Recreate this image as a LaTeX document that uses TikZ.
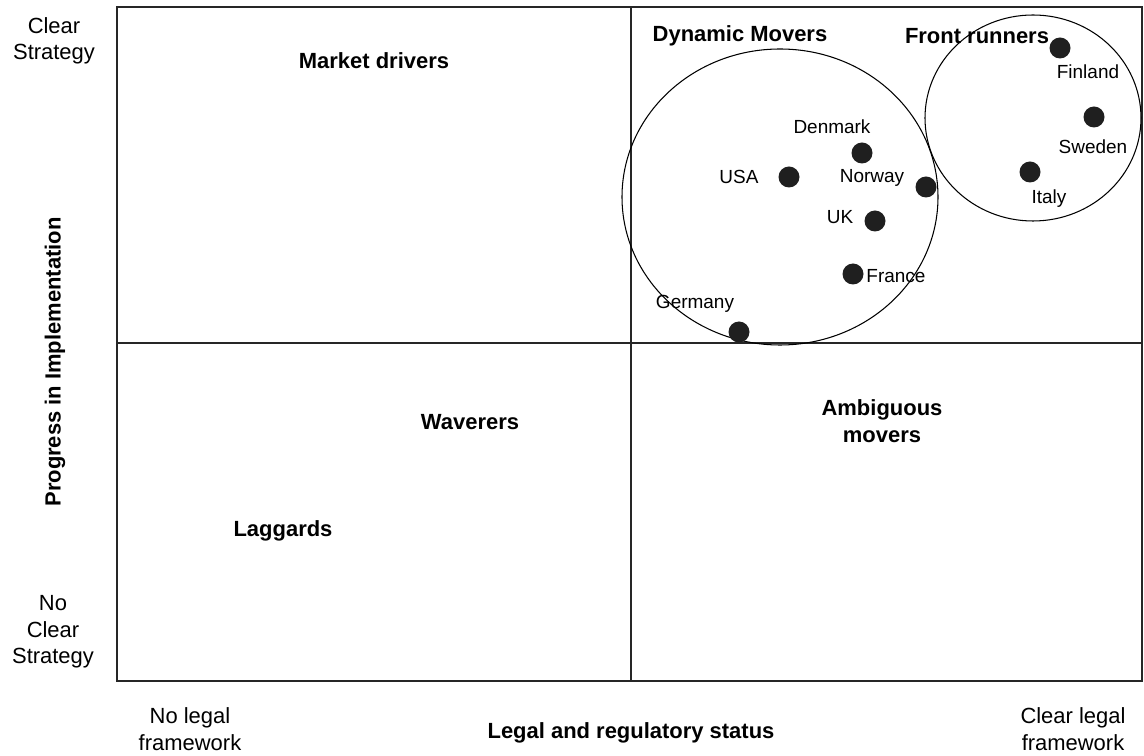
\documentclass[tikz,border=0pt]{standalone}
\usepackage{fontspec}
\setmainfont{Liberation Sans}
\usepackage{tikz}

\tikzset{
  quadlabel/.style={font=\fontsize{12.5}{15}\selectfont\bfseries, align=center},
  axislabel/.style={font=\fontsize{12.5}{15}\selectfont, align=center},
  country/.style={font=\fontsize{10.8}{13}\selectfont},
  dot/.style={circle, fill=black!88, inner sep=0pt, minimum size=0.42cm},
  frame/.style={line width=1.6pt, black!85},
}

\begin{document}
\begin{tikzpicture}[x=0.02cm, y=-0.02cm]
\useasboundingbox (0,0) rectangle (1144,756);
\coordinate (TL) at (117,7);
\coordinate (BR) at (1142,681);
\coordinate (MT) at (631,7);
\coordinate (MB) at (631,681);
\coordinate (ML) at (117,343);
\coordinate (MR) at (1142,343);
\draw[frame] (TL) rectangle (BR);
\draw[frame] (MT) -- (MB);
\draw[frame] (ML) -- (MR);
% the two groups
\draw[line width=0.6pt] (780,197) ellipse [x radius=158, y radius=148];
\draw[line width=0.6pt] (1033,118) ellipse [x radius=108, y radius=103];
% countries
\node[dot] (fin) at (1060,48) {};
\node[dot] (swe) at (1094,117) {};
\node[dot] (ita) at (1030,172) {};
\node[dot] (den) at (862,153) {};
\node[dot] (usa) at (789,177) {};
\node[dot] (nor) at (926,187) {};
\node[dot] (uk) at (875,221) {};
\node[dot] (fra) at (853,274) {};
\node[dot] (ger) at (739,332) {};
\node[country] (finlbl) at (1088,72) {Finland};
\node[country] (swelbl) at (1093,147) {Sweden};
\node[country] (italbl) at (1049,199) {Italy};
\node[country] (denlbl) at (832,127) {Denmark};
\node[country] (usalbl) at (739,177) {USA};
\node[country] (norlbl) at (872,178) {Norway};
\node[country] (uklbl) at (840,217) {UK};
\node[country] (fralbl) at (896,276) {France};
\node[country] (gerlbl) at (695,304) {Germany};
% quadrant names
\node[quadlabel] (dyn) at (740,36) {Dynamic Movers};
\node[quadlabel] (front) at (977,36) {Front runners};
\node[quadlabel] (market) at (374,61) {Market drivers};
\node[quadlabel] (waver) at (470,422) {Waverers};
\node[quadlabel] (ambig) at (882,421) {Ambiguous\\movers};
\node[quadlabel] (lag) at (283,531) {Laggards};
% axes
\node[axislabel] (clearstr) at (54,41) {Clear\\Strategy};
\node[axislabel] (noclearstr) at (53,632) {No\\Clear\\Strategy};
\node[axislabel] (nolegal) at (190,729) {No legal\\framework};
\node[axislabel] (clearlegal) at (1073,729) {Clear legal\\framework};
\node[quadlabel] (xaxis) at (631,733) {Legal and regulatory status};
\node[quadlabel, rotate=90] (yaxis) at (55,362) {Progress in Implementation};
\end{tikzpicture}
\end{document}
